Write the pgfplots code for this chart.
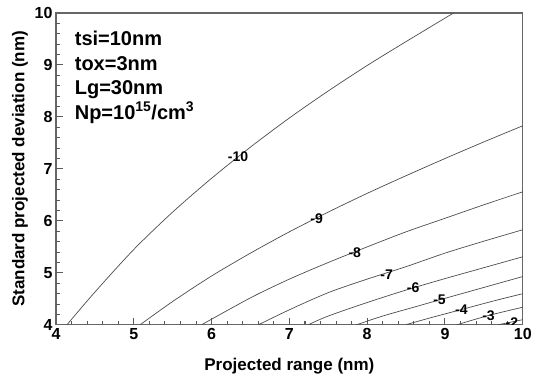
\documentclass[border=0pt]{standalone}
\usepackage{pgfplots}
\pgfplotsset{compat=1.18}
\usepackage{fontspec}
\setmainfont{Liberation Sans}
\begin{document}
\begin{tikzpicture}
\begin{axis}[
  scale only axis, width=467pt, height=312pt,
  xmin=4, xmax=10, ymin=4, ymax=10,
  xtick={4,5,6,7,8,9,10}, ytick={4,5,6,7,8,9,10},
  xticklabels={4,5,6,7,8,9,10}, yticklabels={4,5,6,7,8,9,10},
  minor tick num=4,
  tick align=inside, tick pos=left,
  major tick length=7pt, minor tick length=4pt,
  axis line style={draw=black!60, line width=1.1pt},
  tick style={black!65, line width=1pt},
  tick label style={font=\fontsize{16}{18}\selectfont\bfseries},
  xlabel={Projected range (nm)},
  ylabel={Standard projected deviation (nm)},
  label style={font=\fontsize{17}{19}\selectfont\bfseries},
  xlabel style={yshift=-12pt},
]
% tick marks drawn as combs (major and minor), clipped at the axis box
\addplot[ycomb, draw=black!65, line width=1pt, mark=none] coordinates {(5,4.135) (6,4.135) (7,4.135) (8,4.135) (9,4.135)};
\addplot[ycomb, draw=black!65, line width=0.8pt, mark=none] coordinates {(4.2,4.077) (4.4,4.077) (4.6,4.077) (4.8,4.077) (5.2,4.077) (5.4,4.077) (5.6,4.077) (5.8,4.077) (6.2,4.077) (6.4,4.077) (6.6,4.077) (6.8,4.077) (7.2,4.077) (7.4,4.077) (7.6,4.077) (7.8,4.077) (8.2,4.077) (8.4,4.077) (8.6,4.077) (8.8,4.077) (9.2,4.077) (9.4,4.077) (9.6,4.077) (9.8,4.077)};
\addplot[xcomb, draw=black!65, line width=1pt, mark=none] coordinates {(4.09,5) (4.09,6) (4.09,7) (4.09,8) (4.09,9)};
\addplot[xcomb, draw=black!65, line width=0.8pt, mark=none] coordinates {(4.051,4.2) (4.051,4.4) (4.051,4.6) (4.051,4.8) (4.051,5.2) (4.051,5.4) (4.051,5.6) (4.051,5.8) (4.051,6.2) (4.051,6.4) (4.051,6.6) (4.051,6.8) (4.051,7.2) (4.051,7.4) (4.051,7.6) (4.051,7.8) (4.051,8.2) (4.051,8.4) (4.051,8.6) (4.051,8.8) (4.051,9.2) (4.051,9.4) (4.051,9.6) (4.051,9.8)};
% -10
\addplot[draw=black!70, line width=0.7pt, smooth] coordinates {(4.14,4) (4.5,4.63) (5,5.45) (5.5,6.17) (6,6.82) (6.5,7.42) (7,7.98) (7.5,8.50) (8,8.99) (8.5,9.45) (9.11,10.0)};
% -9
\addplot[draw=black!70, line width=0.7pt, smooth] coordinates {(5.08,4) (5.5,4.45) (6,4.94) (6.5,5.38) (7,5.79) (7.5,6.17) (8,6.53) (8.5,6.87) (9,7.2) (9.5,7.52) (10,7.83)};
% -8
\addplot[draw=black!70, line width=0.7pt, smooth] coordinates {(5.87,4) (6.5,4.52) (7,4.88) (7.5,5.2) (8,5.5) (8.5,5.79) (9,6.05) (9.5,6.31) (10,6.56)};
% -7
\addplot[draw=black!70, line width=0.7pt, smooth] coordinates {(6.6,4) (7,4.29) (7.5,4.62) (8,4.88) (8.5,5.12) (9,5.38) (9.5,5.61) (10,5.83)};
% -6
\addplot[draw=black!70, line width=0.7pt, smooth] coordinates {(7.24,4) (7.5,4.17) (8,4.43) (8.5,4.67) (9,4.89) (9.5,5.1) (10,5.31)};
% -5
\addplot[draw=black!70, line width=0.7pt, smooth] coordinates {(7.86,4) (8.2,4.17) (8.6,4.34) (9,4.51) (9.5,4.72) (10,4.93)};
% -4
\addplot[draw=black!70, line width=0.7pt, smooth] coordinates {(8.49,4) (8.8,4.13) (9.2,4.29) (9.6,4.45) (10,4.6)};
% -3
\addplot[draw=black!70, line width=0.7pt, smooth] coordinates {(9.15,4) (9.56,4.18) (10,4.34)};
% -2
\addplot[draw=black!70, line width=0.7pt] coordinates {(9.68,4) (10,4.1)};

\node[font=\fontsize{14}{16}\selectfont\bfseries, inner sep=0pt] at (axis cs:6.34,7.24) {-10};
\node[font=\fontsize{14}{16}\selectfont\bfseries, inner sep=0pt] at (axis cs:7.35,6.05) {-9};
\node[font=\fontsize{14}{16}\selectfont\bfseries, inner sep=0pt] at (axis cs:7.84,5.38) {-8};
\node[font=\fontsize{14}{16}\selectfont\bfseries, inner sep=0pt] at (axis cs:8.25,4.97) {-7};
\node[font=\fontsize{14}{16}\selectfont\bfseries, inner sep=0pt] at (axis cs:8.59,4.71) {-6};
\node[font=\fontsize{14}{16}\selectfont\bfseries, inner sep=0pt] at (axis cs:8.93,4.48) {-5};
\node[font=\fontsize{14}{16}\selectfont\bfseries, inner sep=0pt] at (axis cs:9.21,4.29) {-4};
\node[font=\fontsize{14}{16}\selectfont\bfseries, inner sep=0pt] at (axis cs:9.56,4.18) {-3};
\node[font=\fontsize{14}{16}\selectfont\bfseries, inner sep=0pt] at (axis cs:9.86,4.05) {-2};

\node[font=\fontsize{20}{24}\selectfont\bfseries, anchor=base west, inner sep=0pt] at (axis cs:4.24,9.365) {tsi=10nm};
\node[font=\fontsize{20}{24}\selectfont\bfseries, anchor=base west, inner sep=0pt] at (axis cs:4.24,8.894) {tox=3nm};
\node[font=\fontsize{20}{24}\selectfont\bfseries, anchor=base west, inner sep=0pt] at (axis cs:4.24,8.423) {Lg=30nm};
\node[font=\fontsize{20}{24}\selectfont\bfseries, anchor=base west, inner sep=0pt] at (axis cs:4.24,7.952) {Np=10\textsuperscript{15}/cm\textsuperscript{3}};
\end{axis}
\path ([shift={(-56pt,-53pt)}]current axis.south west) rectangle ([shift={(12pt,13pt)}]current axis.north east);
\end{tikzpicture}
\end{document}
